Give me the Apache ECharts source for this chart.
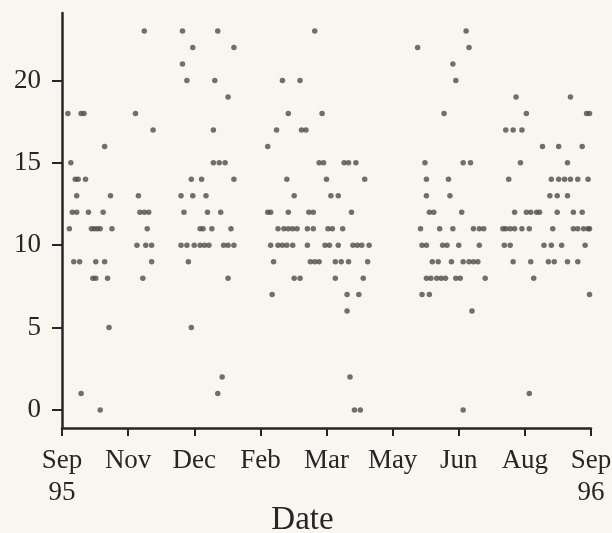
<!DOCTYPE html>
<html>
<head>
<meta charset="utf-8">
<script src="https://cdn.jsdelivr.net/npm/echarts@6/dist/echarts.min.js"></script>
<style>
  html, body { margin: 0; padding: 0; background: #f8f6ee; }
  #chart { width: 612px; height: 533px; }
</style>
</head>
<body>
<div id="chart"></div>
<script>
// Observations: day offset from 1 Sep 1995, grouped by recorded value.
const level23 = [56, 82, 106, 172, 275];
const level22 = [89, 117, 242, 277];
const level21 = [82, 266];
const level20 = [85, 104, 150, 162, 268];
const level19 = [113, 309, 346];
const level18 = [4, 13, 15, 50, 154, 177, 260, 316, 357, 359];
const level17 = [62, 103, 146, 163, 166, 302, 307, 313];
const level16 = [29, 140, 327, 338, 354];
const level15 = [6, 103, 107, 111, 175, 178, 192, 195, 200, 247, 273, 278, 312, 344];
const level14 = [9, 11, 16, 88, 95, 117, 153, 180, 206, 248, 263, 304, 333, 338, 342, 346, 351, 358];
const level13 = [10, 33, 52, 81, 89, 98, 158, 183, 188, 248, 264, 332, 337, 344];
const level12 = [7, 10, 18, 28, 53, 56, 59, 83, 99, 108, 140, 142, 154, 168, 171, 197, 250, 253, 272, 308, 316, 319, 323, 325, 337, 348, 354];
const level11 = [5, 20, 22, 24, 26, 34, 58, 94, 96, 102, 115, 147, 151, 154, 157, 160, 167, 171, 181, 184, 191, 244, 257, 266, 280, 284, 287, 300, 302, 305, 308, 313, 318, 334, 348, 351, 355, 358, 359];
const level10 = [51, 57, 61, 81, 85, 90, 94, 97, 100, 110, 113, 117, 142, 147, 150, 153, 157, 167, 179, 182, 188, 198, 201, 204, 209, 245, 248, 259, 262, 270, 284, 301, 305, 328, 333, 340, 356];
const level9 = [8, 12, 23, 29, 61, 86, 144, 169, 172, 175, 186, 190, 195, 208, 252, 256, 265, 273, 277, 280, 283, 307, 319, 331, 335, 344, 351];
const level8 = [21, 23, 31, 55, 113, 158, 162, 186, 205, 248, 251, 255, 258, 261, 268, 271, 288, 321];
const level7 = [143, 194, 202, 245, 250, 359];
const level6 = [194, 279];
const level5 = [32, 88];
const level2 = [109, 196];
const level1 = [13, 106, 318];
const level0 = [26, 199, 203, 273];

const dateTickLabels = ['Sep\n95', 'Nov', 'Dec', 'Feb', 'Mar', 'May', 'Jun', 'Aug', 'Sep\n96'];
const valueTicks = [0, 5, 10, 15, 20];

const byLevel = [
  [23, level23], [22, level22], [21, level21], [20, level20], [19, level19],
  [18, level18], [17, level17], [16, level16], [15, level15], [14, level14],
  [13, level13], [12, level12], [11, level11], [10, level10], [9, level9],
  [8, level8], [7, level7], [6, level6], [5, level5], [2, level2],
  [1, level1], [0, level0]
];
const points = [];
byLevel.forEach(([v, days]) => days.forEach(d => points.push([d, v])));

const ink = '#262626';
const serif = '"Liberation Serif", "DejaVu Serif", serif';

const chart = echarts.init(document.getElementById('chart'), null, { renderer: 'canvas', width: 612, height: 533 });
chart.setOption({
  backgroundColor: '#f8f6ee',
  animation: false,
  grid: { left: 62, right: 21, top: 13, bottom: 105, containLabel: false, outerBoundsMode: 'none' },
  xAxis: {
    type: 'value',
    min: 0,
    max: 360,
    interval: 45,
    name: 'Date',
    nameLocation: 'middle',
    nameGap: 76,
    nameMoveOverlap: false,
    nameTextStyle: { fontFamily: serif, fontSize: 33, color: ink, padding: [0, 48, 0, 0] },
    axisLine: { show: true, onZero: false, lineStyle: { color: ink, width: 2.5 } },
    axisTick: { show: true, inside: false, length: 8, lineStyle: { color: ink, width: 2 } },
    axisLabel: {
      show: true,
      margin: 17,
      fontFamily: serif,
      fontSize: 27,
      lineHeight: 32,
      color: ink,
      showMinLabel: true,
      showMaxLabel: true,
      hideOverlap: false,
      formatter: v => dateTickLabels[Math.round(v / 45)] || ''
    },
    splitLine: { show: false }
  },
  yAxis: {
    type: 'value',
    min: -1.1,
    max: 24.1,
    axisLine: { show: true, onZero: false, lineStyle: { color: ink, width: 2.5 } },
    axisTick: { show: true, inside: false, length: 10, customValues: valueTicks, lineStyle: { color: ink, width: 2 } },
    axisLabel: {
      show: true,
      margin: 21,
      fontFamily: serif,
      fontSize: 27,
      color: ink,
      customValues: valueTicks
    },
    splitLine: { show: false }
  },
  series: [{
    type: 'scatter',
    data: points,
    symbol: 'circle',
    symbolSize: 5.5,
    itemStyle: { color: '#4e4e4e' }
  }]
});
</script>
</body>
</html>
